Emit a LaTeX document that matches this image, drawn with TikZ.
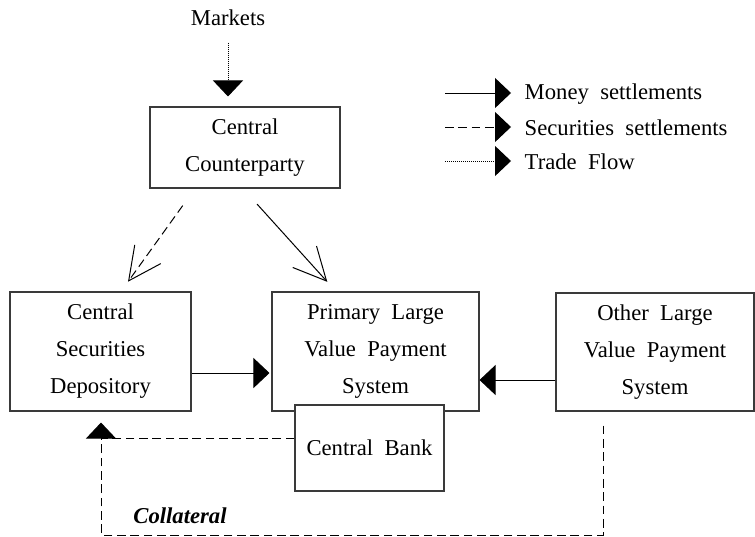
\documentclass[tikz,border=0pt]{standalone}
\usepackage{fontspec}
\setmainfont{Liberation Serif}
\usetikzlibrary{
  arrows.meta,
  positioning,
  calc
}
\definecolor{ink}{HTML}{000000}
\definecolor{frame}{HTML}{3A3A3A}
\newcommand{\diagfont}{\fontsize{17pt}{27.75pt}\selectfont\spaceskip=0.5em plus 0.1em\relax}
\tikzset{
  every picture/.style={line join=miter},
  every node/.style={font=\diagfont, text=ink},
  box/.style={
    draw=frame,
    fill=white,
    line width=0.8pt,
    align=center,
    inner sep=0pt
  },
  head/.style={-{Triangle[length=12pt, width=22.5pt]}},
  barb/.style={-{Straight Barb[length=24.5pt, width=24pt]}},
  moneyflow/.style={draw=ink, line width=0.75pt},
  secflow/.style={draw=ink, line width=0.75pt, dash pattern=on 6.5pt off 3.5pt},
  tradeflow/.style={draw=ink, line width=0.75pt, dash pattern=on 0.6pt off 0.9pt},
  annot/.style={text=ink, anchor=west}
}

\begin{document}
\begin{tikzpicture}[x=0.75pt, y=-0.75pt]
  \useasboundingbox (0,0) rectangle (755,536);

  % Boxes
  \node (markets) at (228,18) {Markets};
  \node[box, minimum width=142.5pt, minimum height=60.75pt] (ccp) at (245,147.5) {Central\\Counterparty};
  \node[box, minimum width=135.75pt, minimum height=89.25pt] (csd) at (100.5,351.5) {Central\\Securities\\Depository};
  \node[box, minimum width=155.25pt, minimum height=89.25pt] (plvps) at (375.5,351.5) {Primary Large\\Value Payment\\System};
  \node[box, minimum width=148.5pt, minimum height=88.5pt] (olvps) at (655,352) {Other Large\\Value Payment\\System};
  \node[box, minimum width=111.75pt, minimum height=64.5pt] (cb) at (369.5,448) {Central Bank};

  % Trade flow from the markets
  \draw[tradeflow, head, shorten <=9pt, shorten >=7.5pt] (markets.south) -- (markets.south |- ccp.north);

  % Settlements out of the counterparty
  \draw[secflow, barb, shorten <=15.75pt, shorten >=9pt] ($(ccp.south)+(-50,0)$) -- ($(csd.north)+(20.5,0)$);
  \draw[moneyflow, barb, shorten <=15.75pt, shorten >=9.75pt] ($(ccp.south)+(-2,0)$) -- ($(plvps.north)+(-39.5,0)$);

  % Money into the primary system
  \draw[moneyflow, head, shorten >=1.5pt] ($(csd.east)+(0,21.5)$) -- ($(plvps.west)+(0,21.5)$);
  \draw[moneyflow, head] ($(olvps.west)+(0,28)$) -- ($(plvps.east)+(0,28.5)$);

  % Collateral loop
  \coordinate (colstart) at ($(olvps.south)+(-52,14)$);
  \coordinate (colcorner) at (101,535);
  \coordinate (coltip) at ($(csd.south)+(0.5,11)$);
  \coordinate (cbout) at ($(cb.west)+(0,-10)$);
  \draw[secflow, head] (colstart) -- (colstart |- colcorner) -- (colcorner) -- (coltip);
  \draw[secflow] (cbout) -- (coltip |- cbout);
  \node[font=\fontsize{17pt}{20pt}\selectfont\bfseries\itshape] (collat) at (180,516) {Collateral};

  % Legend
  \coordinate (lgmoneya) at (445,93);
  \coordinate (lgmoneyb) at (511,93);
  \coordinate (lgseca) at (445,127);
  \coordinate (lgsecb) at (511,127);
  \coordinate (lgtradea) at (445,161);
  \coordinate (lgtradeb) at (511,161);
  \draw[moneyflow, head] (lgmoneya) -- (lgmoneyb);
  \draw[secflow, head] (lgseca) -- (lgsecb);
  \draw[tradeflow, head] (lgtradea) -- (lgtradeb);
  \node[annot] (lgmoney) at (520,94) {Money settlements};
  \node[annot] (lgsec) at (520,128) {Securities settlements};
  \node[annot] (lgtrade) at (520,162) {Trade Flow};
\end{tikzpicture}
\end{document}
